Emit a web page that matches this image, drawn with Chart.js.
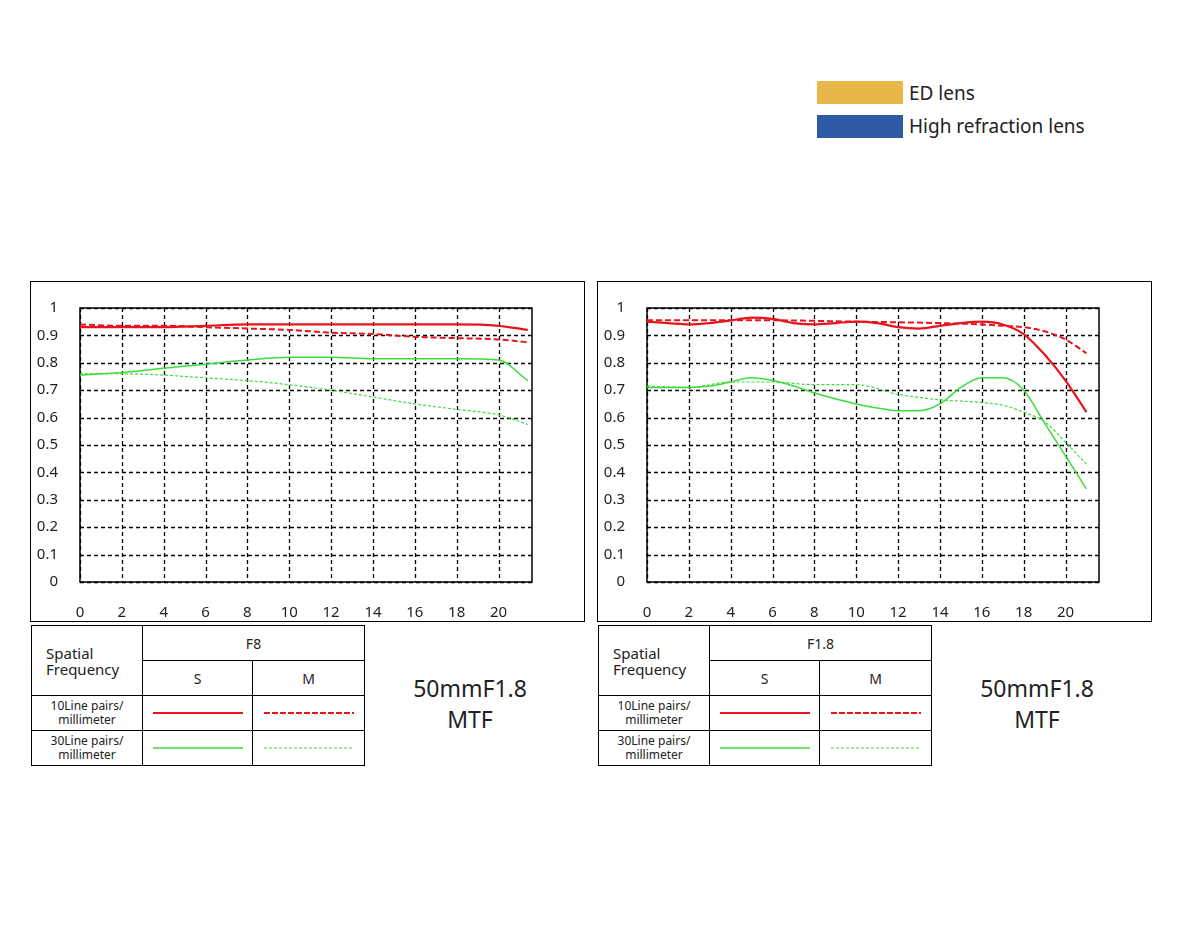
<!DOCTYPE html>
<html>
<head>
<meta charset="utf-8">
<script src="https://cdn.jsdelivr.net/npm/chart.js@4"></script>
<style>
  body { margin: 0; width: 1180px; height: 936px; background: #fff; font-family: "Noto Sans", sans-serif; position: relative; overflow: hidden; }
  .frame { position: absolute; top: 281px; width: 553px; height: 339px; border: 1.5px solid #000; }
  .frame canvas { position: absolute; left: 0; top: 0; }
  .key { position: absolute; left: 817px; width: 86px; height: 23px; }
  .keytxt { position: absolute; left: 909px; font-size: 19px; color: #222; }
  table { position: absolute; top: 625px; border-collapse: collapse; font-size: 14px; color: #222; table-layout: fixed; }
  td { border: 1.5px solid #000; text-align: center; padding: 0; }
  td.small { font-size: 12px; line-height: 14px; }
  .ln { display: block; margin: 0 auto; width: 90px; }
  .title { position: absolute; top: 673px; width: 160px; text-align: center; font-size: 23px; line-height: 31px; color: #222; }
</style>
</head>
<body>
<div class="key" style="top:81px;background:#e8b94a"></div>
<div class="keytxt" style="top:80px">ED lens</div>
<div class="key" style="top:115px;background:#2f5ba6"></div>
<div class="keytxt" style="top:113px">High refraction lens</div>

<div class="frame" style="left:30px"><canvas id="leftChart" width="553" height="339"></canvas></div>
<div class="frame" style="left:597px"><canvas id="rightChart" width="553" height="339"></canvas></div>

<div id="tables"></div>
<div class="title" style="left:390px">50mmF1.8<br>MTF</div>
<div class="title" style="left:957px">50mmF1.8<br>MTF</div>

<script>
// F8
const leftX1 = [0, 2, 4, 6, 8, 10, 12, 14, 16, 18, 20, 21.4];
const left10S = [0.93, 0.93, 0.93, 0.935, 0.94, 0.94, 0.94, 0.94, 0.94, 0.94, 0.935, 0.92];
const left10M = [0.94, 0.935, 0.935, 0.93, 0.925, 0.92, 0.91, 0.905, 0.895, 0.89, 0.885, 0.875];
const left30S = [0.755, 0.765, 0.78, 0.795, 0.81, 0.82, 0.82, 0.815, 0.815, 0.815, 0.81, 0.735];
const left30M = [0.76, 0.76, 0.755, 0.745, 0.735, 0.72, 0.70, 0.675, 0.65, 0.63, 0.61, 0.575];

// F1.8
const rightX10S = [0, 1, 2, 3, 4, 5, 6, 7, 8, 9, 10, 11, 12, 13, 14, 15, 16, 17, 18, 19, 20, 21];
const right10S = [0.95, 0.945, 0.94, 0.945, 0.955, 0.965, 0.96, 0.945, 0.94, 0.945, 0.95, 0.945, 0.93, 0.925, 0.935, 0.945, 0.95, 0.94, 0.905, 0.83, 0.735, 0.62];
const rightX10M = [0, 4, 6, 10, 14, 16, 17, 18, 19, 20, 21];
const right10M = [0.955, 0.955, 0.955, 0.95, 0.945, 0.94, 0.935, 0.93, 0.915, 0.885, 0.835];
const rightX30S = [0, 2, 3, 4, 5, 6, 7, 8, 10, 11, 12, 13, 14, 15, 16, 17, 18, 19, 20, 21];
const right30S = [0.71, 0.71, 0.715, 0.73, 0.745, 0.735, 0.715, 0.69, 0.65, 0.635, 0.625, 0.625, 0.65, 0.71, 0.745, 0.745, 0.70, 0.58, 0.46, 0.34];
const rightX30M = [0, 2, 4, 6, 8, 10, 12, 14, 16, 17, 18, 19, 20, 21];
const right30M = [0.715, 0.71, 0.73, 0.73, 0.72, 0.72, 0.685, 0.665, 0.655, 0.645, 0.62, 0.585, 0.51, 0.43];

const xTicks = [0, 2, 4, 6, 8, 10, 12, 14, 16, 18, 20];
const yTicks = [0, 0.1, 0.2, 0.3, 0.4, 0.5, 0.6, 0.7, 0.8, 0.9, 1];
const apertures = ["F8", "F1.8"];

const RED = "#e8141b", GREEN = "#3ddc3d";

const pts = (xs, ys) => xs.map((x, i) => ({ x: x, y: ys[i] }));
const ds = (data, color, width, dash) => ({
  data, borderColor: color, borderWidth: width, borderDash: dash,
  pointRadius: 0, fill: false, tension: 0.4, cubicInterpolationMode: "monotone"
});

// dashed grid + solid frame drawn by hand
const gridPlugin = {
  id: "dgrid",
  beforeDatasetsDraw(chart) {
    const a = chart.chartArea, c = chart.ctx, sx = chart.scales.x, sy = chart.scales.y;
    c.save();
    c.strokeStyle = "#000"; c.lineWidth = 1.3; c.setLineDash([4, 3]);
    xTicks.forEach(v => { const p = Math.round(sx.getPixelForValue(v)) + 0.5; c.beginPath(); c.moveTo(p, a.top); c.lineTo(p, a.bottom); c.stroke(); });
    yTicks.forEach(v => { const p = Math.round(sy.getPixelForValue(v)) + 0.5; c.beginPath(); c.moveTo(a.left, p); c.lineTo(a.right, p); c.stroke(); });
    c.setLineDash([]); c.lineWidth = 1.5;
    c.strokeRect(a.left, a.top, a.right - a.left, a.bottom - a.top);
    c.restore();
  }
};

const makeChart = (id, sets) => new Chart(document.getElementById(id), {
  type: "line",
  data: { datasets: sets },
  options: {
    responsive: false,
    animation: false,
    layout: { padding: { top: 26, right: 52, left: 0, bottom: 0 } },
    plugins: { legend: { display: false }, tooltip: { enabled: false } },
    scales: {
      x: {
        type: "linear", min: 0, max: 21.6,
        afterBuildTicks: ax => { ax.ticks = xTicks.map(v => ({ value: v })); },
        afterFit: ax => { ax.height = 39; },
        ticks: { color: "#222", font: { family: "Noto Sans", size: 15 }, padding: 14, maxRotation: 0 },
        grid: { display: false },
        border: { display: false }
      },
      y: {
        min: 0, max: 1,
        afterBuildTicks: ax => { ax.ticks = yTicks.map(v => ({ value: v })); },
        afterFit: ax => { ax.width = 49; },
        ticks: { color: "#222", font: { family: "Noto Sans", size: 15 }, padding: 14, callback: v => String(Math.round(v * 10) / 10) },
        grid: { display: false },
        border: { display: false }
      }
    }
  },
  plugins: [gridPlugin]
});

makeChart("leftChart", [
  ds(pts(leftX1, left10M), RED, 2, [6, 3]),
  ds(pts(leftX1, left30M), GREEN, 1.2, [3, 2]),
  ds(pts(leftX1, left30S), GREEN, 1.5, []),
  ds(pts(leftX1, left10S), RED, 2.2, [])
]);
makeChart("rightChart", [
  ds(pts(rightX10M, right10M), RED, 2, [6, 3]),
  ds(pts(rightX30M, right30M), GREEN, 1.2, [3, 2]),
  ds(pts(rightX30S, right30S), GREEN, 1.5, []),
  ds(pts(rightX10S, right10S), RED, 2.2, [])
]);

const line = (color, w, dash) =>
  `<svg class="ln" height="6"><line x1="0" y1="3" x2="90" y2="3" stroke="${color}" stroke-width="${w}" stroke-dasharray="${dash}"/></svg>`;

const tbl = (left, ap) => `
<table style="left:${left}px;width:333px">
  <colgroup><col style="width:111px"><col style="width:110px"><col style="width:112px"></colgroup>
  <tr style="height:35px"><td rowspan="2" style="text-align:left;padding-left:14px;line-height:16px;font-size:15px">Spatial<br>Frequency</td>
      <td colspan="2">${ap}</td></tr>
  <tr style="height:35px"><td>S</td><td>M</td></tr>
  <tr style="height:35px"><td class="small">10Line pairs/<br>millimeter</td><td>${line(RED, 2, "none")}</td><td>${line(RED, 1.8, "6 2")}</td></tr>
  <tr style="height:35px"><td class="small">30Line pairs/<br>millimeter</td><td>${line(GREEN, 1.5, "none")}</td><td>${line(GREEN, 1.2, "3 2")}</td></tr>
</table>`;
document.getElementById("tables").innerHTML = tbl(31, apertures[0]) + tbl(598, apertures[1]);
</script>
</body>
</html>
